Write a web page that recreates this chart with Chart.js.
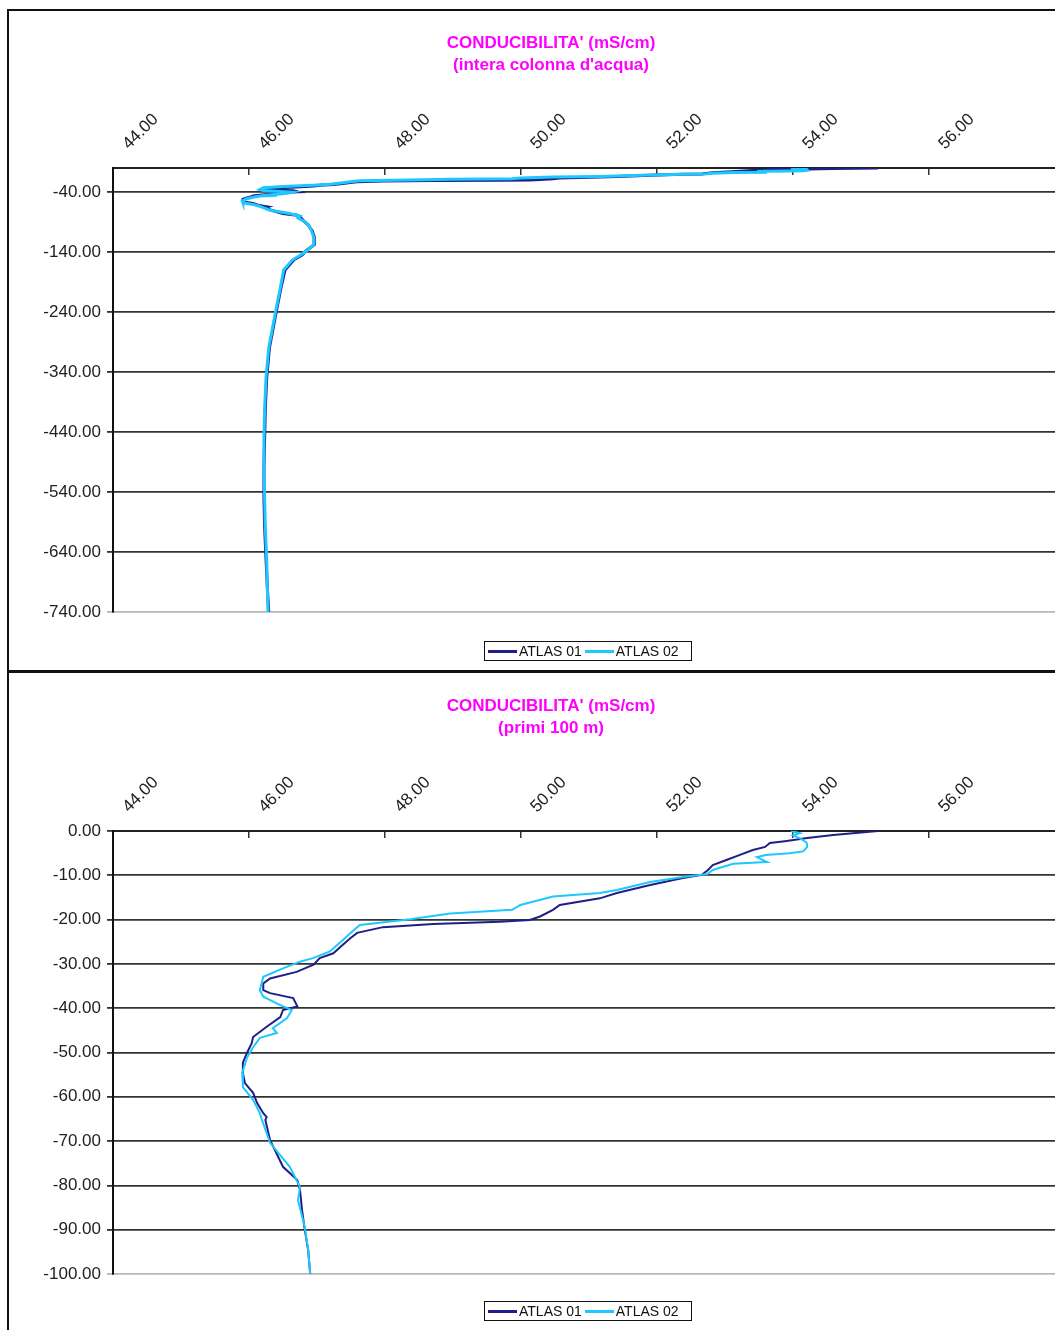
<!DOCTYPE html>
<html>
<head>
<meta charset="utf-8">
<title>Conducibilita</title>
<script src="https://cdn.jsdelivr.net/npm/chart.js@4.4.1/dist/chart.umd.min.js"></script>
<style>
    body {
        margin: 0;
        width: 1055px;
        height: 1330px;
        overflow: hidden;
        background: #ffffff;
        position: relative;
        font-family: "Liberation Sans", Arial, sans-serif;
    }

    .frame {
        position: absolute;
        left: 7px;
        top: 9px;
        width: 1200px;
        height: 1400px;
        border-left: 2px solid #111;
        border-top: 2px solid #111;
    }

    .divider {
        position: absolute;
        left: 7px;
        top: 670px;
        width: 1200px;
        height: 3px;
        background: #111;
    }

    .panel {
        position: absolute;
        left: 0;
        width: 1075px;
    }

    .title {
        position: absolute;
        left: 0;
        width: 1102px;
        text-align: center;
        color: #ff00ff;
        font-weight: bold;
        font-size: 17px;
        line-height: 22px;
    }

    .legend {
        position: absolute;
        left: 484px;
        width: 206px;
        height: 18px;
        border: 1.5px solid #111;
        display: flex;
        align-items: center;
        font-size: 14px;
        color: #111;
    }

    .legend span.swatch {
        display: inline-block;
        width: 29px;
        height: 3px;
        margin-left: 3px;
        margin-right: 2px;
    }
</style>
</head>
<body>

<div class="frame"></div>
<div class="divider"></div>

<div class="panel" style="top:0; height:670px;">
    <canvas id="chartFull"></canvas>
</div>
<div class="title" style="top:32px;">CONDUCIBILITA' (mS/cm)<br>(intera colonna d'acqua)</div>
<div class="legend" id="legendFull" style="top:641px;"></div>

<div class="panel" style="top:673px; height:657px;">
    <canvas id="chartTop"></canvas>
</div>
<div class="title" style="top:695px;">CONDUCIBILITA' (mS/cm)<br>(primi 100 m)</div>
<div class="legend" id="legendTop" style="top:1301px;"></div>

<script>

/* =========================
DATA
========================= */

const seriesNames = ["ATLAS 01", "ATLAS 02"];

// first 100 m, ATLAS 01
const depth01 = [0, -0.9, -1.6, -2.3, -2.7, -3.6, -4.3, -5.4, -6.5, -7.7, -8.8, -9.9, -10.6, -12.2, -14.0, -15.2, -16.7, -17.8, -19.3, -20.1, -20.5, -21.0, -21.7, -23.0, -24.2, -25.7, -27.6, -28.7, -30.2, -31.8, -33.3, -34.4, -35.9, -36.6, -37.7, -39.6, -40.4, -42.0, -44.2, -46.5, -47.9, -50.1, -52.3, -54.6, -56.9, -59.1, -61.4, -63.7, -64.6, -65.2, -69.8, -75.8, -78.8, -81.0, -85.6, -90.0, -94.6, -100];
const cond01 = [55.25, 54.59, 54.21, 53.88, 53.66, 53.59, 53.41, 53.22, 53.03, 52.82, 52.75, 52.66, 52.38, 51.90, 51.41, 51.16, 50.57, 50.47, 50.28, 50.13, 49.69, 48.71, 47.97, 47.59, 47.49, 47.38, 47.24, 47.04, 46.95, 46.70, 46.31, 46.21, 46.21, 46.31, 46.65, 46.71, 46.50, 46.46, 46.26, 46.06, 46.04, 45.97, 45.91, 45.91, 45.94, 46.06, 46.12, 46.21, 46.26, 46.24, 46.31, 46.50, 46.71, 46.75, 46.78, 46.82, 46.87, 46.90];

// first 100 m, ATLAS 02
const depth02 = [0, -0.5, -1.0, -1.6, -2.6, -3.6, -4.6, -5.0, -5.4, -5.9, -6.5, -7.0, -7.4, -8.8, -9.7, -10.4, -11.5, -13.3, -14.0, -14.8, -16.7, -17.8, -18.6, -19.9, -21.2, -23.1, -24.6, -27.2, -28.7, -29.5, -31.0, -32.9, -35.9, -37.4, -39.3, -40.4, -42.2, -44.5, -45.6, -46.7, -48.8, -51.2, -54.6, -57.8, -60.7, -63.7, -65.2, -70.4, -75.8, -80.4, -83.3, -89.4, -94.6, -100];
const cond02 = [53.97, 54.10, 54.00, 54.10, 54.20, 54.21, 54.15, 53.95, 53.60, 53.47, 53.55, 53.62, 53.12, 52.82, 52.74, 52.38, 51.90, 51.41, 51.16, 50.47, 49.99, 49.87, 48.96, 48.37, 47.63, 47.49, 47.38, 47.19, 46.94, 46.75, 46.50, 46.21, 46.16, 46.21, 46.46, 46.63, 46.56, 46.35, 46.41, 46.16, 46.06, 45.97, 45.90, 45.91, 46.06, 46.16, 46.19, 46.31, 46.60, 46.75, 46.72, 46.82, 46.87, 46.90];

// below 100 m (whole water column)
const depthDeep = [-105, -115, -128, -137, -145, -153, -170, -200, -240, -300, -350, -400, -450, -500, -550, -600, -650, -700, -740];
const condDeep01 = [46.93, 46.96, 46.96, 46.85, 46.78, 46.66, 46.53, 46.47, 46.40, 46.30, 46.26, 46.24, 46.23, 46.22, 46.22, 46.23, 46.25, 46.27, 46.29];
const condDeep02 = [46.92, 46.95, 46.95, 46.86, 46.76, 46.64, 46.51, 46.46, 46.39, 46.29, 46.25, 46.23, 46.22, 46.22, 46.23, 46.24, 46.26, 46.27, 46.28];

// axis ticks (58 only closes the scale, it sits past the page edge)
const xTicks = [44, 46, 48, 50, 52, 54, 56, 58];
const yTicksFull = [-740, -640, -540, -440, -340, -240, -140, -40];
const yTicksTop = [-100, -90, -80, -70, -60, -50, -40, -30, -20, -10, 0];

const colors = ["#1f1f86", "#1ec8ff"];

Chart.defaults.font.family = '"Liberation Sans", Arial, sans-serif';

/* =========================
HELPERS
========================= */

function toPoints(depths, values) {

    return depths.map((d, i) => ({ x: values[i], y: d }));

}

function makeDatasets(points01, points02, width) {

    return [
        {
            label: seriesNames[0],
            data: points01,
            borderColor: colors[0],
            borderWidth: width,
            showLine: true,
            pointRadius: 0,
            order: 1
        },
        {
            label: seriesNames[1],
            data: points02,
            borderColor: colors[1],
            borderWidth: width,
            showLine: true,
            pointRadius: 0,
            order: 0
        }
    ];

}

function getChartOptions(yTicks, axisHeight, bottomPad) {

    const yMin = yTicks[0];
    const xMax = xTicks[xTicks.length - 1];

    return {

        responsive: true,
        maintainAspectRatio: false,
        animation: false,

        layout: {
            autoPadding: false,
            padding: { top: 0, left: 0, right: 10, bottom: bottomPad }
        },

        plugins: {
            legend: { display: false },
            title: { display: false },
            tooltip: { enabled: false }
        },

        scales: {

            x: {
                type: "linear",
                position: "top",
                min: xTicks[0],
                max: xMax,
                afterBuildTicks: s => {
                    s.ticks = xTicks.map(v => ({ value: v }));
                },
                afterFit: s => {
                    s.height = axisHeight;
                    s.paddingLeft = 0;
                    s.paddingRight = 0;
                },
                grid: {
                    drawOnChartArea: false,
                    tickLength: -7,
                    color: "#333",
                    lineWidth: 1.5
                },
                border: { color: "#222", width: 2 },
                ticks: {
                    minRotation: 45,
                    maxRotation: 45,
                    autoSkip: false,
                    padding: 21,
                    labelOffset: 27,
                    color: "#222",
                    font: { size: 17 },
                    callback: v => v >= xMax ? "" : v.toFixed(2)
                }
            },

            y: {
                type: "linear",
                min: yMin,
                max: 0,
                afterBuildTicks: s => {
                    s.ticks = yTicks.map(v => ({ value: v }));
                },
                afterFit: s => {
                    s.width = 113;
                },
                grid: {
                    tickLength: 6,
                    lineWidth: 1.8,
                    color: ctx => (ctx.tick && ctx.tick.value === yMin) ? "#b8b8b8" : "#333"
                },
                border: { color: "#111", width: 2 },
                ticks: {
                    padding: 6,
                    color: "#222",
                    font: { size: 17 },
                    callback: v => v.toFixed(2)
                }
            }

        }

    };

}

function buildLegend(id) {

    const box = document.getElementById(id);

    seriesNames.forEach((name, i) => {

        const sw = document.createElement("span");
        sw.className = "swatch";
        sw.style.background = colors[i];
        box.appendChild(sw);

        const txt = document.createElement("span");
        txt.textContent = name;
        box.appendChild(txt);

    });

}

/* =========================
WHOLE WATER COLUMN
========================= */

new Chart(document.getElementById("chartFull"), {

    type: "scatter",

    data: {
        datasets: makeDatasets(
            toPoints(depth01.concat(depthDeep), cond01.concat(condDeep01)),
            toPoints(depth02.concat(depthDeep), cond02.concat(condDeep02)),
            3
        )
    },

    options: getChartOptions(yTicksFull, 168, 58)

});

buildLegend("legendFull");

/* =========================
FIRST 100 M
========================= */

new Chart(document.getElementById("chartTop"), {

    type: "scatter",

    data: {
        datasets: makeDatasets(
            toPoints(depth01, cond01),
            toPoints(depth02, cond02),
            2
        )
    },

    options: getChartOptions(yTicksTop, 158, 56)

});

buildLegend("legendTop");

</script>
</body>
</html>
